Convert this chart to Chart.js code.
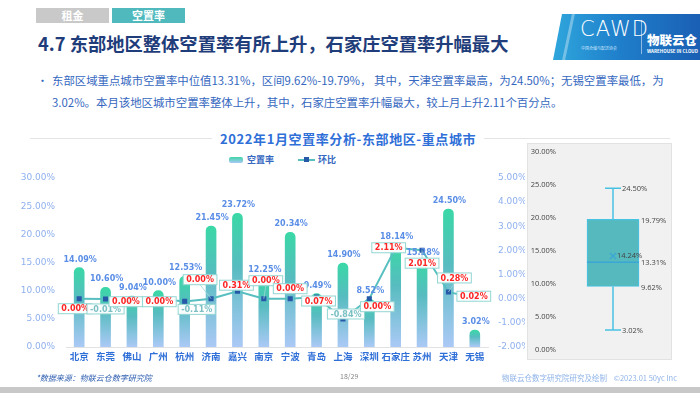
<!DOCTYPE html>
<html>
<head>
<meta charset="utf-8">
<script src="https://cdn.jsdelivr.net/npm/chart.js@4.4.1/dist/chart.umd.min.js"></script>
<style>
  body { margin: 0; width: 700px; height: 393px; overflow: hidden; background: #fff; position: relative;
         font-family: "Noto Sans CJK SC", "Noto Sans", sans-serif; }
  .abs { position: absolute; }
  .tab { top: 8px; height: 15px; width: 73px; color: #fff; font-size: 11px; font-weight: bold; text-align: center; line-height: 15px; }
  #title { left: 38px; top: 30px; font-size: 18.3px; font-weight: bold; color: #1f3d7a; white-space: nowrap; }
  .txt { left: 52px; font-size: 11.4px; color: #3567c0; white-space: nowrap; }
  #logo { left: 553px; top: 14px; width: 147px; height: 46px;
          background: linear-gradient(90deg, #2fa6dc 0%, #1f7fcb 45%, #1a5fb4 100%);
          clip-path: polygon(9px 0, 100% 0, 100% 100%, 0 100%); }
  #hline { left: 30px; top: 138px; width: 640px; height: 1px; background: #e4e4e4; }
  #ctitle { left: 212px; top: 129px; padding: 0 8px; background: #fff; font-size: 13px; font-weight: bold; color: #2f6fd8; letter-spacing: 0.6px; white-space: nowrap; }
  .leg { font-size: 9px; font-weight: bold; color: #3567c0; top: 153px; }
  #boxpanel { left: 527px; top: 143px; width: 145px; height: 217px; background: #f1f1f1; border: 1px solid #e2e2e2; box-sizing: border-box; }
</style>
</head>
<body>
<div class="abs tab" style="left:36px;background:#c9c9c9">租金</div>
<div class="abs tab" style="left:112px;background:#4fb9bd">空置率</div>
<div id="title" class="abs">4.7 东部地区整体空置率有所上升，石家庄空置率升幅最大</div>

<div id="logo" class="abs">
  <div class="abs" style="left:14px;top:0;width:3px;height:46px;background:rgba(255,255,255,0.35);transform:skewX(-12deg)"></div>
  <div class="abs" style="left:27px;top:3px;color:#fff;font-family:'DejaVu Sans';font-weight:200;font-size:21px;letter-spacing:1px">CAWD</div>
  <div class="abs" style="left:28px;top:31px;color:#cfe6ff;font-size:4px;white-space:nowrap">中国仓储与配送协会</div>
  <div class="abs" style="left:88px;top:6px;width:1px;height:34px;background:rgba(255,255,255,0.5)"></div>
  <div class="abs" style="left:94px;top:16px;color:#fff;font-size:12.5px;font-weight:900">物联云仓</div>
  <div class="abs" style="left:94px;top:34px;color:#fff;font-size:4.5px;font-weight:bold;white-space:nowrap">WAREHOUSE IN CLOUD</div>
</div>

<div class="abs" style="left:37px;top:72px;font-size:11px;color:#3567c0">•</div>
<div class="abs txt" style="top:72px">东部区域重点城市空置率中位值13.31%，区间9.62%-19.79%， 其中，天津空置率最高，为24.50%；无锡空置率最低，为</div>
<div class="abs txt" style="top:94px">3.02%。本月该地区城市空置率整体上升，其中，石家庄空置率升幅最大，较上月上升2.11个百分点。</div>

<div id="hline" class="abs"></div>
<div id="ctitle" class="abs">2022年1月空置率分析-东部地区-重点城市</div>
<div class="abs" style="left:229px;top:157px;width:14px;height:6px;border-radius:2px;background:linear-gradient(180deg,#3fd6a6,#a9c8f5)"></div>
<div class="abs leg" style="left:247px">空置率</div>
<div class="abs" style="left:298px;top:159px;width:17px;height:2px;background:#58bfc0"></div>
<div class="abs" style="left:304px;top:157px;width:5px;height:5px;background:#2659a8"></div>
<div class="abs leg" style="left:318px">环比</div>

<div class="abs" style="left:0;top:165px;width:525px;height:210px"><canvas id="main"></canvas></div>

<div id="boxpanel" class="abs"></div>
<div class="abs" style="left:527px;top:143px;width:145px;height:217px"><canvas id="box"></canvas></div>

<div class="abs" style="left:36px;top:372px;font-size:8px;font-style:italic;color:#2f5fb0">*数据来源：物联云仓数字研究院</div>
<div class="abs" style="left:340px;top:371px;font-size:7px;color:#888">18/29</div>
<div class="abs" style="left:502px;top:372px;font-size:7.5px;color:#8fb3e8;white-space:nowrap">物联云仓数字研究院研究及绘制&nbsp;&nbsp;&nbsp;&nbsp;©2023.01 50yc Inc</div>
<div class="abs" style="left:0;top:387px;width:700px;height:6px;background:#c8c8c8"></div>

<script>
// 城市与数值
const cities = ["北京", "东莞", "佛山", "广州", "杭州", "济南", "嘉兴", "南京", "宁波", "青岛", "上海", "深圳", "石家庄", "苏州", "天津", "无锡"];
const vacancy = [14.09, 10.60, 9.04, 10.00, 12.53, 21.45, 23.72, 12.25, 20.34, 9.49, 14.90, 8.52, 18.14, 15.28, 24.50, 3.02];
const mom = [0.00, -0.01, 0.00, 0.00, -0.11, 0.00, 0.31, 0.00, 0.00, 0.07, -0.84, 0.00, 2.11, 2.01, 0.28, 0.02];

// 箱线图：最小值, Q1, 中位数, Q3, 最大值 ; 平均值
const boxValues = [3.02, 9.62, 13.31, 19.79, 24.50];
const boxMean = 14.24;

// 环比标签的偏移（只是排版）
const momLabelShift = [[-4, 10], [0, 10], [-6, 3], [1, 3], [12, 8], [-11, -19], [-1, -6], [2, -18],
  [0, -10], [2, 4], [3, -5], [8, 8], [-7, 0], [0, 13], [6, -14], [-1, -2]];

const pct = v => v.toFixed(2) + "%";

const barGradient = (c) => {
  const chart = c.chart;
  if (!chart.chartArea) return "#5bbfc0";
  const y = chart.scales.y;
  const top = y.getPixelForValue(vacancy[c.dataIndex]);
  const bottom = y.getPixelForValue(0);
  const g = chart.ctx.createLinearGradient(0, top, 0, bottom);
  g.addColorStop(0, "#3ad8a6");
  g.addColorStop(0.4, "#57bcc0");
  g.addColorStop(1, "#abc9f6");
  return g;
};

const labelsPlugin = {
  id: "labels",
  afterDatasetsDraw(chart) {
    const ctx = chart.ctx;
    const bars = chart.getDatasetMeta(0).data;
    const pts = chart.getDatasetMeta(1).data;
    ctx.save();
    ctx.textAlign = "center";
    ctx.textBaseline = "bottom";
    ctx.font = "bold 8px 'DejaVu Sans'";
    ctx.fillStyle = "#5a8ee6";
    bars.forEach((b, i) => ctx.fillText(pct(vacancy[i]), b.x + 1, b.y - 4));

    ctx.textBaseline = "middle";
    pts.forEach((p, i) => {
      const [dx, dy] = momLabelShift[i];
      const cx = p.x + dx, cy = p.y + dy;
      const t = pct(mom[i]);
      const w = ctx.measureText(t).width + 6, h = 10;
      if (Math.abs(dy) > 12) {
        ctx.strokeStyle = "#9fd8d6";
        ctx.lineWidth = 0.8;
        ctx.beginPath();
        ctx.moveTo(p.x, p.y);
        ctx.lineTo(cx, cy + (dy < 0 ? h / 2 : -h / 2));
        ctx.stroke();
      }
      ctx.fillStyle = "rgba(255,255,255,0.95)";
      ctx.fillRect(cx - w / 2, cy - h / 2, w, h);
      ctx.strokeStyle = "#92d6d2";
      ctx.lineWidth = 1;
      ctx.strokeRect(cx - w / 2, cy - h / 2, w, h);
      ctx.fillStyle = mom[i] < 0 ? "#7cc0c4" : "#ff2424";
      ctx.fillText(t, cx, cy + 0.5);
    });
    ctx.restore();
  }
};

new Chart(document.getElementById("main"), {
  data: {
    labels: cities,
    datasets: [
      {
        type: "bar", label: "空置率", data: vacancy, yAxisID: "y",
        backgroundColor: barGradient, barThickness: 10,
        borderRadius: { topLeft: 5, topRight: 5 }, borderSkipped: "bottom", order: 2
      },
      {
        type: "line", label: "环比", data: mom, yAxisID: "y1",
        borderColor: "#58bfc0", borderWidth: 2, tension: 0,
        pointStyle: "rect", pointRadius: 2.2, pointBackgroundColor: "#2659a8", pointBorderColor: "#2659a8",
        order: 1
      }
    ]
  },
  options: {
    responsive: true, maintainAspectRatio: false, animation: false,
    layout: { padding: { top: 13, left: 0, right: 0, bottom: 0 } },
    plugins: { legend: { display: false }, tooltip: { enabled: false } },
    scales: {
      x: {
        grid: { display: false, drawTicks: false },
        border: { color: "#e2e2e2" },
        ticks: { color: "#2f6fd8", font: { size: 9.5, weight: "bold", family: "Noto Sans CJK SC" }, padding: 4, maxRotation: 0, autoSkip: false },
        afterFit: s => { s.height = 28; }
      },
      y: {
        position: "left", min: 0, max: 30,
        grid: { display: false }, border: { display: false },
        ticks: { stepSize: 5, callback: v => pct(v), color: "#8fb0ee", font: { size: 9, family: "DejaVu Sans" }, padding: 3 },
        afterFit: s => { s.width = 66; }
      },
      y1: {
        position: "right", min: -2, max: 5,
        grid: { display: false }, border: { display: false },
        ticks: { stepSize: 1, callback: v => pct(v), color: "#8fb0ee", font: { size: 9, family: "DejaVu Sans" }, padding: 2 },
        afterFit: s => { s.width = 37; }
      }
    }
  },
  plugins: [labelsPlugin]
});

const boxPlugin = {
  id: "boxParts",
  afterDatasetsDraw(chart) {
    const ctx = chart.ctx;
    const y = chart.scales.y;
    const bar = chart.getDatasetMeta(0).data[0];
    const cx = bar.x, half = bar.width / 2;
    const [mn, q1, med, q3, mx] = boxValues.map(v => y.getPixelForValue(v));
    ctx.save();
    ctx.strokeStyle = "#48c2e2";
    ctx.lineWidth = 1.5;
    ctx.beginPath();
    ctx.moveTo(cx, q3); ctx.lineTo(cx, mx);
    ctx.moveTo(cx, q1); ctx.lineTo(cx, mn);
    ctx.moveTo(cx - 8, mx); ctx.lineTo(cx + 8, mx);
    ctx.moveTo(cx - 8, mn); ctx.lineTo(cx + 8, mn);
    ctx.stroke();
    ctx.strokeStyle = "#3aa6d6";
    ctx.beginPath();
    ctx.moveTo(cx - half, med); ctx.lineTo(cx + half, med);
    ctx.stroke();
    const my = y.getPixelForValue(boxMean);
    ctx.lineWidth = 1.2;
    ctx.beginPath();
    ctx.moveTo(cx - 3, my - 3); ctx.lineTo(cx + 3, my + 3);
    ctx.moveTo(cx + 3, my - 3); ctx.lineTo(cx - 3, my + 3);
    ctx.stroke();

    ctx.font = "7.5px 'Open Sans'";
    ctx.fillStyle = "#444";
    ctx.textBaseline = "middle";
    ctx.textAlign = "left";
    ctx.fillText(pct(boxValues[4]), cx + 9, mx + 1);
    ctx.fillText(pct(boxValues[0]), cx + 9, mn + 1);
    ctx.fillText(pct(boxValues[3]), cx + half + 2, q3 + 1);
    ctx.fillText(pct(boxValues[2]), cx + half + 2, med + 1);
    ctx.fillText(pct(boxValues[1]), cx + half + 2, q1 + 1);
    ctx.fillText(pct(boxMean), cx + 4, my);
    ctx.restore();
  }
};

new Chart(document.getElementById("box"), {
  type: "bar",
  data: {
    labels: [""],
    datasets: [{
      data: [[boxValues[1], boxValues[3]]],
      backgroundColor: "#55b9bd", borderColor: "#48c2e2", borderWidth: 1.2, borderSkipped: false,
      barThickness: 52
    }]
  },
  options: {
    responsive: true, maintainAspectRatio: false, animation: false,
    layout: { padding: { top: 9, bottom: 10, right: 5, left: 0 } },
    plugins: { legend: { display: false }, tooltip: { enabled: false } },
    scales: {
      x: { display: false },
      y: {
        min: 0, max: 30,
        grid: { display: false }, border: { display: false },
        ticks: { stepSize: 5, callback: v => pct(v), color: "#444", font: { size: 7.5, family: "Open Sans" }, padding: -5 },
        afterFit: s => { s.width = 32; }
      }
    }
  },
  plugins: [boxPlugin]
});
</script>
</body>
</html>
